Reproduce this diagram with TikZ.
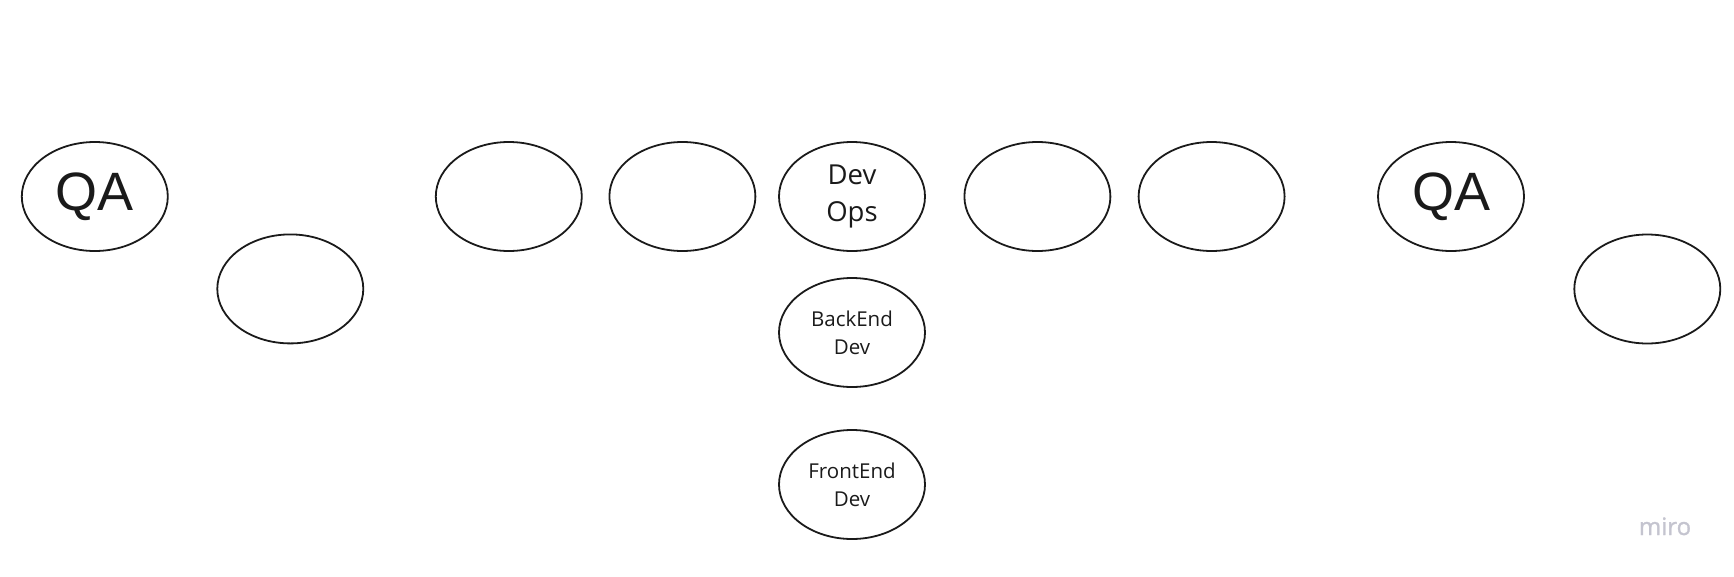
\documentclass[tikz,border=0pt]{standalone}
\usepackage{fontspec}
\setmainfont{Open Sans}
\newfontfamily\qafont{Liberation Sans}
\usetikzlibrary{shapes.geometric}
\definecolor{ink}{HTML}{1A1A1A}
\definecolor{mirogray}{HTML}{C4C4CF}
\tikzset{
  player/.style={ellipse, draw=ink, line width=1.8pt, minimum width=146pt, minimum height=109pt, inner sep=0pt, text=ink, align=center},
  qatext/.style={font=\qafont\fontsize{54}{62}\selectfont},
  bigtext/.style={font=\fontsize{27.5}{36.7}\selectfont},
  smalltext/.style={font=\fontsize{20.5}{28.3}\selectfont},
}
\begin{document}
\begin{tikzpicture}[x=1pt,y=-1pt]
\useasboundingbox (0,0) rectangle (1734,576);
\node[player, qatext] (qa1) at (94.8,196.5) {QA};
\node[player] (p2) at (290.3,288.9) {};
\node[player] (p3) at (508.8,196.5) {};
\node[player] (p4) at (682.4,196.5) {};
\node[player, bigtext] (devops) at (852,196.5) {Dev\\Ops};
\node[player] (p6) at (1037.4,196.5) {};
\node[player] (p7) at (1211.6,196.5) {};
\node[player, qatext] (qa2) at (1451,196.5) {QA};
\node[player] (p9) at (1647.3,289) {};
\node[player, smalltext] (backend) at (852,332.5) {BackEnd\\Dev};
\node[player, smalltext] (frontend) at (852,484.5) {FrontEnd\\Dev};
\node[text=mirogray, font=\fontsize{24}{28}\selectfont\addfontfeatures{FakeBold=1.2}, inner sep=0pt, anchor=base] (miro) at (1665,535) {miro};
\end{tikzpicture}
\end{document}
